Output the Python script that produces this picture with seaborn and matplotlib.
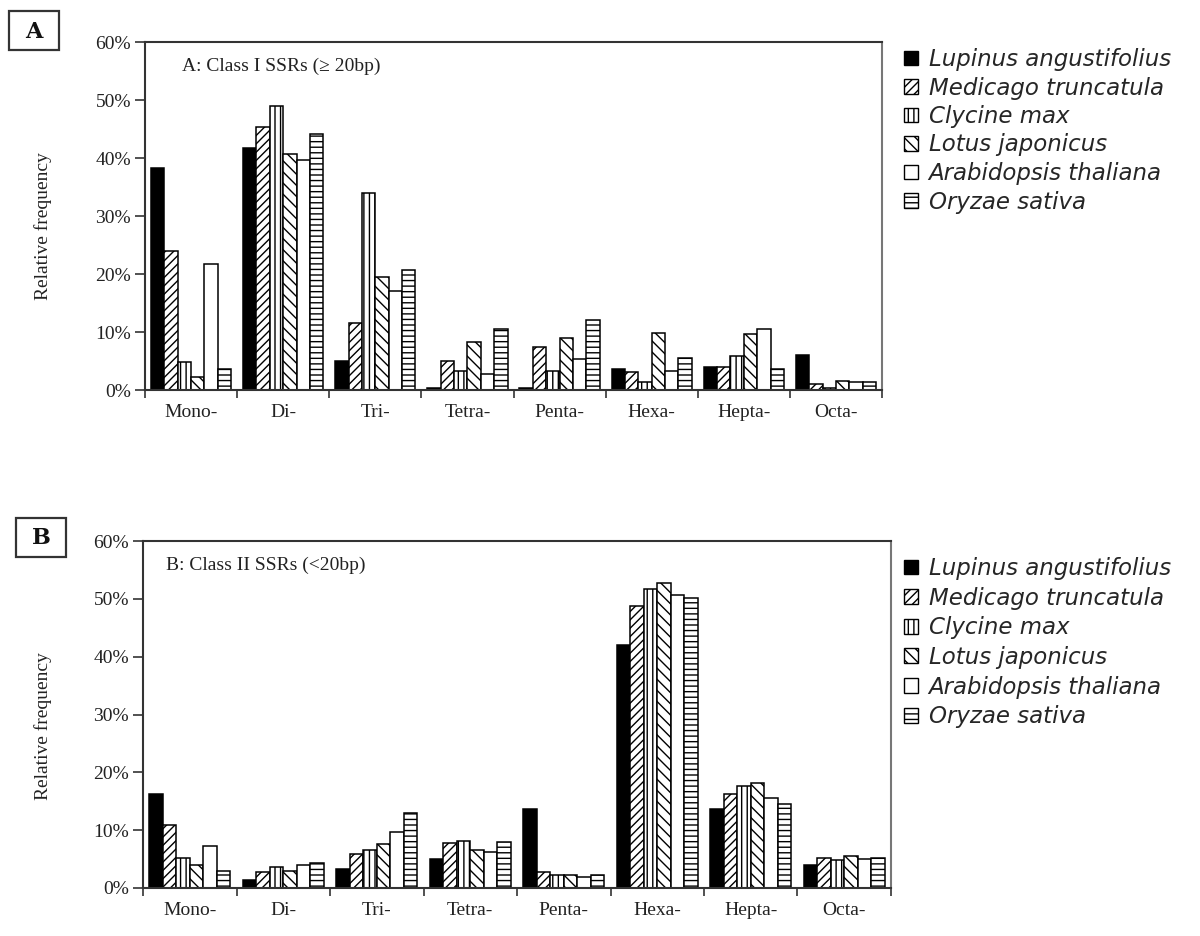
import matplotlib
matplotlib.use("Agg")
import matplotlib.pyplot as plt
import seaborn as sns
import pandas as pd
from matplotlib.patches import Patch, Rectangle
from matplotlib.ticker import PercentFormatter

# ---------------- data ----------------
motifs = ["Mono-", "Di-", "Tri-", "Tetra-", "Penta-", "Hexa-", "Hepta-", "Octa-"]
species = ["Lupinus angustifolius", "Medicago truncatula", "Clycine max",
           "Lotus japonicus", "Arabidopsis thaliana", "Oryzae sativa"]

# Panel A: Class I SSRs (>= 20bp), relative frequency in %
classI_lupinus     = [38.2, 41.8, 5.0, 0.3, 0.3, 3.6, 3.9, 6.0]
classI_medicago    = [24.0, 45.4, 11.6, 5.0, 7.5, 3.1, 3.9, 1.0]
classI_glycine     = [4.9, 49.0, 33.9, 3.2, 3.3, 1.3, 5.9, 0.4]
classI_lotus       = [2.3, 40.7, 19.5, 8.3, 8.9, 9.9, 9.7, 1.6]
classI_arabidopsis = [21.7, 39.7, 17.1, 2.8, 5.3, 3.2, 10.6, 1.3]
classI_oryza       = [3.6, 44.1, 20.7, 10.5, 12.1, 5.6, 3.7, 1.3]

# Panel B: Class II SSRs (<20bp), relative frequency in %
classII_lupinus     = [16.3, 1.3, 3.3, 5.0, 13.6, 42.1, 13.6, 3.9]
classII_medicago    = [10.9, 2.7, 5.9, 7.8, 2.7, 48.8, 16.3, 5.2]
classII_glycine     = [5.2, 3.6, 6.5, 8.2, 2.3, 51.7, 17.6, 4.9]
classII_lotus       = [4.0, 3.0, 7.6, 6.5, 2.3, 52.7, 18.2, 5.5]
classII_arabidopsis = [7.3, 4.0, 9.7, 6.2, 1.9, 50.6, 15.5, 5.1]
classII_oryza       = [3.0, 4.4, 12.9, 7.9, 2.3, 50.1, 14.5, 5.2]

yticks = [0, 10, 20, 30, 40, 50, 60]

hatches = ["", "////", "|||", "\\\\\\", "", "---"]
faces = ["black", "white", "white", "white", "white", "white"]


def long_df(series):
    rows = []
    for sp, vals in zip(species, series):
        for m, v in zip(motifs, vals):
            rows.append({"motif": m, "species": sp, "freq": v})
    return pd.DataFrame(rows)


dfA = long_df([classI_lupinus, classI_medicago, classI_glycine,
               classI_lotus, classI_arabidopsis, classI_oryza])
dfB = long_df([classII_lupinus, classII_medicago, classII_glycine,
               classII_lotus, classII_arabidopsis, classII_oryza])

# ---------------- style ----------------
sns.set_theme(style="white")
plt.rcParams["font.family"] = ["Liberation Serif", "DejaVu Serif"]
plt.rcParams["hatch.linewidth"] = 1.0

fig = plt.figure(figsize=(12, 9.36), dpi=100)
W, H = 1200, 936


def px_axes(l, r, t, b):
    return fig.add_axes([l / W, 1 - b / H, (r - l) / W, (b - t) / H])


axA = px_axes(145, 882, 42, 390)
axB = px_axes(143, 891, 541, 888)

serif = ["Liberation Serif", "DejaVu Serif"]


def draw(ax, df, title, tx, ty, legend_top, spacing):
    sns.barplot(data=df, x="motif", y="freq", hue="species", order=motifs,
                hue_order=species, ax=ax, width=0.87, legend=False,
                errorbar=None, saturation=1)
    for cont, h, fc in zip(ax.containers, hatches, faces):
        for bar in cont:
            bar.set_facecolor(fc)
            bar.set_edgecolor("black")
            bar.set_linewidth(1.1)
            bar.set_hatch(h)
    ax.set_ylim(0, 60)
    ax.set_xlim(-0.5, 7.5)
    ax.set_yticks(yticks)
    ax.yaxis.set_major_formatter(PercentFormatter(xmax=100, decimals=0))
    ax.set_xticks([i - 0.5 for i in range(9)])
    ax.set_xticklabels([])
    ax.set_xticks(range(8), minor=True)
    ax.set_xticklabels(motifs, minor=True)
    ax.tick_params(axis="x", which="major", direction="out", length=6,
                   width=1.2, color="#333333", bottom=True)
    ax.tick_params(axis="x", which="minor", length=0, pad=10, labelsize=14)
    ax.tick_params(axis="y", direction="out", length=7, width=1.2,
                   color="#333333", left=True, labelsize=14, pad=3)
    for lab in ax.get_xticklabels(minor=True) + ax.get_yticklabels():
        lab.set_fontfamily(serif)
        lab.set_color("#222222")
    ax.set_xlabel("")
    ax.set_ylabel("")
    for s in ["left", "bottom", "top", "right"]:
        ax.spines[s].set_visible(True)
        ax.spines[s].set_color("#333333")
        ax.spines[s].set_linewidth(1.5)
    ax.spines["right"].set_color("#777777")
    ax.text(tx, ty, title, transform=ax.transAxes, fontsize=14,
            family=serif, va="center", ha="left", color="#222222")
    handles = [Patch(facecolor=fc, edgecolor="black", hatch=h, linewidth=1.0)
               for fc, h in zip(faces, hatches)]
    leg = fig.legend(handles, species, loc="upper left",
                     bbox_to_anchor=(904 / W, 1 - legend_top / H),
                     frameon=False, handlelength=0.62, handleheight=0.62,
                     handletextpad=0.45, labelspacing=spacing,
                     prop={"family": "DejaVu Sans", "style": "italic",
                           "size": 16.5}, borderaxespad=0, borderpad=0)
    return leg


draw(axA, dfA, "A: Class I SSRs (\u2265 20bp)", 0.05, 0.93, 48, 0.24)
draw(axB, dfB, "B: Class II SSRs (<20bp)", 0.031, 0.93, 557, 0.29)

# y labels
fig.text(43 / W, 1 - 226 / H, "Relative frequency", rotation=90, ha="center",
         va="center", fontsize=14, family=serif, color="#222222")
fig.text(43 / W, 1 - 726 / H, "Relative frequency", rotation=90, ha="center",
         va="center", fontsize=14, family=serif, color="#222222")

# panel letters in boxes
for letter, x0, y0 in [("A", 9, 11), ("B", 16, 518)]:
    bw, bh = 50, 39
    fig.patches.append(Rectangle((x0 / W, 1 - (y0 + bh) / H), bw / W, bh / H,
                                 transform=fig.transFigure, facecolor="white",
                                 edgecolor="#333333", linewidth=1.6))
    fig.text((x0 + bw / 2) / W, 1 - (y0 + bh / 2 + 1) / H, letter,
             ha="center", va="center", fontsize=16, fontweight="bold",
             family=["DejaVu Serif"], color="#111111")

fig.savefig("out.png", dpi=100, facecolor="white")
